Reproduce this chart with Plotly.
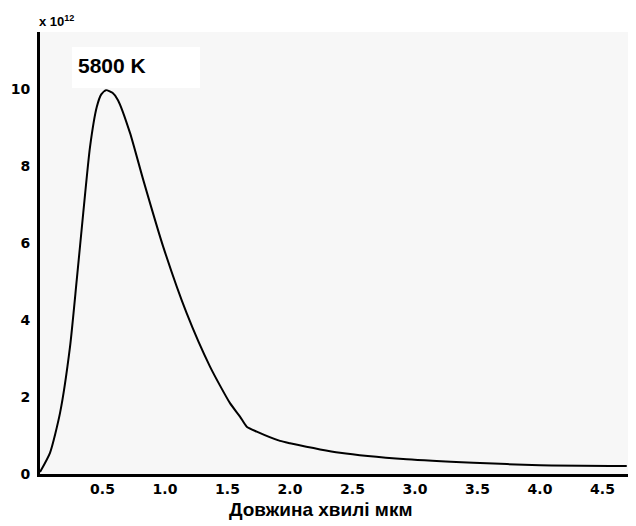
import plotly.graph_objects as go

# Wavelength (μm) and spectral radiance (×10^12)
wavelength = [0.0, 0.08, 0.16, 0.24, 0.294, 0.346, 0.40, 0.454, 0.49, 0.528, 0.58, 0.624,
              0.72, 0.826, 0.986, 1.174, 1.36, 1.52, 1.60, 1.654, 1.734, 1.92, 2.0,
              2.4, 2.934, 3.466, 4.0, 4.694]
radiance = [0.05, 0.55, 1.58, 3.30, 5.04, 6.78, 8.49, 9.53, 9.86, 9.97, 9.90, 9.71,
            8.86, 7.64, 5.90, 4.17, 2.79, 1.84, 1.49, 1.23, 1.10, 0.86, 0.80,
            0.55, 0.38, 0.29, 0.23, 0.21]

x_ticks = [0.5, 1.0, 1.5, 2.0, 2.5, 3.0, 3.5, 4.0, 4.5]
x_tick_labels = ["0.5", "1.0", "1.5", "2.0", "2.5", "3.0", "3.5", "4.0", "4.5"]
y_ticks = [0, 2, 4, 6, 8, 10]
y_tick_labels = ["0", "2", "4", "6", "8", "10"]

curve_label = "5800 K"
x_title = "Довжина хвилі мкм"
y_scale_label = "x 10<sup>12</sup>"

# plot area in page pixels: x 40..636, y 32..474
def px(xp):
    return (xp - 40) / 596

def py(yp):
    return (474 - yp) / 442

fig = go.Figure()
fig.add_trace(go.Scatter(
    x=wavelength, y=radiance, mode="lines",
    line=dict(color="black", width=2, shape="spline", smoothing=0.6),
    hoverinfo="skip", showlegend=False,
))

tick_font = dict(family="DejaVu Sans", size=14, color="black", weight="bold")

# the page body adds an 8px offset, so the figure is 8px smaller than the window
fig.update_layout(
    width=628, height=518,
    margin=dict(l=32, r=0, t=24, b=52),
    paper_bgcolor="white",
    plot_bgcolor="#f7f7f7",
    showlegend=False,
    xaxis=dict(
        range=[0, 4.768], showgrid=False, zeroline=False, automargin=False,
        showline=True, linecolor="black", linewidth=3,
        tickmode="array", tickvals=x_ticks, ticktext=x_tick_labels,
        ticks="", tickfont=tick_font,
    ),
    yaxis=dict(
        range=[0, 11.48], showgrid=False, zeroline=False, automargin=False,
        showline=True, linecolor="black", linewidth=3,
        tickmode="array", tickvals=y_ticks, ticktext=y_tick_labels,
        ticks="", tickfont=tick_font, ticklabelstandoff=4,
    ),
    shapes=[
        dict(type="rect", xref="paper", yref="paper", layer="below",
             x0=px(72), x1=px(200), y0=py(88), y1=py(47),
             fillcolor="white", line=dict(width=0)),
    ],
    annotations=[
        dict(text=curve_label, xref="paper", yref="paper",
             x=px(76), y=py(66), xanchor="left", yanchor="middle",
             showarrow=False, align="left",
             font=dict(family="Liberation Sans", size=21, color="black", weight="bold")),
        dict(text=y_scale_label, xref="paper", yref="paper",
             x=px(37), y=py(21), xanchor="left", yanchor="middle",
             showarrow=False, align="left",
             font=dict(family="Liberation Sans", size=13, color="black", weight="bold")),
        dict(text=x_title, xref="paper", yref="paper",
             x=px(320), y=py(510), xanchor="center", yanchor="middle",
             showarrow=False,
             font=dict(family="Liberation Sans", size=19, color="black", weight="bold")),
    ],
)

fig.write_html("out.html")
